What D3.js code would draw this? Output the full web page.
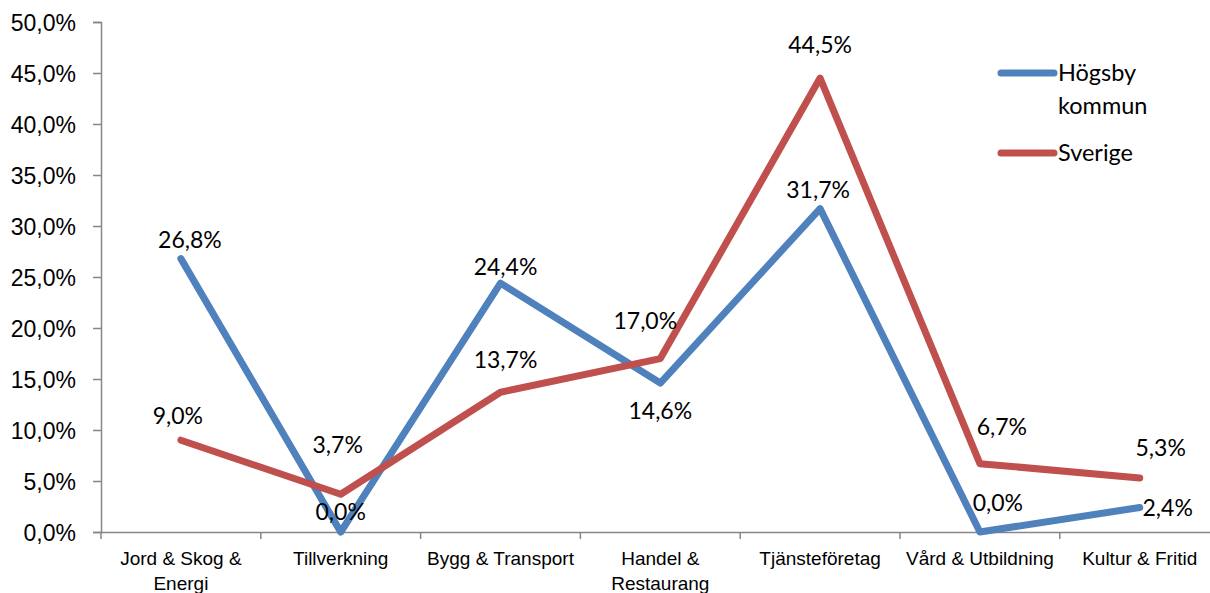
<!DOCTYPE html>
<html>
<head>
<meta charset="utf-8">
<script src="https://cdn.jsdelivr.net/npm/d3@7"></script>
<style>
  body { margin: 0; background: #fff; }
  svg { display: block; font-family: Lato, "Open Sans", sans-serif; }
  .yAxis text { font-size: 23px; fill: #000; }
  .xAxis text { font-size: 19px; fill: #000; }
  .lbl { font-size: 23px; fill: #000; }
  .leg { font-size: 23.5px; fill: #000; }
</style>
</head>
<body>
<div id="chart"></div>
<script>
// data
var categories = ["Jord & Skog & Energi", "Tillverkning", "Bygg & Transport", "Handel & Restaurang",
                  "Tjänsteföretag", "Vård & Utbildning", "Kultur & Fritid"];
var seriesNames = ["Högsby kommun", "Sverige"];
var hogsby  = [26.8, 0.0, 24.4, 14.6, 31.7, 0.0, 2.4];
var sverige = [9.0, 3.7, 13.7, 17.0, 44.5, 6.7, 5.3];
var yTicks = [0, 5, 10, 15, 20, 25, 30, 35, 40, 45, 50];

// label nudges (px) relative to each point, as placed in the original
var hogsbyLabelOffset  = [[9,-19],[0,-20],[5,-16],[0,28],[-2,-19],[18,-29],[28,0]];
var sverigeLabelOffset = [[-3,-24],[-3,-49],[5,-32],[-15,-38],[0,-33],[22,-37],[21,-30]];

var svgWidth = 1210, svgHeight = 593;
var margin = { left: 101, top: 22, bottom: 61 };
var plotRight = 101 + 7 * 159.8;

var svg = d3.select("#chart")
  .append("svg")
  .attr("width", svgWidth)
  .attr("height", svgHeight);

var x = d3.scaleBand()
  .domain(categories)
  .range([margin.left, plotRight])
  .padding(0);

var y = d3.scaleLinear()
  .domain([0, 50])
  .range([svgHeight - margin.bottom, margin.top]);

var axisColor = "#868686";

// y axis
var yAxis = d3.axisLeft(y)
  .tickValues(yTicks)
  .tickSize(8)
  .tickPadding(17)
  .tickFormat(d => d.toFixed(1).replace(".", ",") + "%");

var gy = svg.append("g")
  .attr("class", "yAxis")
  .attr("transform", `translate(${margin.left},0)`)
  .call(yAxis);
gy.select(".domain").attr("stroke", axisColor).attr("stroke-width", 1.5);
gy.selectAll(".tick line").attr("stroke", axisColor).attr("stroke-width", 1.5);
gy.selectAll(".tick text").attr("dy", "0.35em");

// x axis
var xAxis = d3.axisBottom(x).tickSize(0).tickPadding(0);
var gx = svg.append("g")
  .attr("class", "xAxis")
  .attr("transform", `translate(0,${y(0)})`)
  .call(xAxis);
gx.select(".domain").attr("stroke", axisColor).attr("stroke-width", 1.5);
gx.selectAll(".tick text").attr("y", 33).attr("dy", 0).call(wrap, 158);

// tick marks between categories
gx.selectAll(".sep")
  .data(categories.concat(["end"]))
  .enter()
  .append("line")
  .attr("class", "sep")
  .attr("x1", (d, i) => i < categories.length ? x(d) : plotRight)
  .attr("x2", (d, i) => i < categories.length ? x(d) : plotRight)
  .attr("y1", 0)
  .attr("y2", 7)
  .attr("stroke", axisColor)
  .attr("stroke-width", 1.5);

function wrap(texts, width) {
  texts.each(function() {
    var text = d3.select(this);
    var words = text.text().split(/\s+/);
    var yy = text.attr("y");
    text.text(null);
    var line = [];
    var lineNo = 0;
    var tspan = text.append("tspan").attr("x", 0).attr("y", yy);
    words.forEach(function(w) {
      line.push(w);
      tspan.text(line.join(" "));
      if (tspan.node().getComputedTextLength() > width && line.length > 1) {
        line.pop();
        tspan.text(line.join(" "));
        line = [w];
        lineNo++;
        tspan = text.append("tspan").attr("x", 0).attr("y", +yy + lineNo * 25).text(w);
      }
    });
  });
}

var cx = d => x(d) + x.bandwidth() / 2;

var series = [
  { name: seriesNames[0], values: hogsby, color: "#4F81BD", offs: hogsbyLabelOffset },
  { name: seriesNames[1], values: sverige, color: "#C0504D", offs: sverigeLabelOffset }
];

var line = d3.line()
  .x((d, i) => cx(categories[i]))
  .y(d => y(d));

series.forEach(function(s) {
  svg.append("path")
    .datum(s.values)
    .attr("fill", "none")
    .attr("stroke", s.color)
    .attr("stroke-width", 7)
    .attr("stroke-linejoin", "round")
    .attr("stroke-linecap", "round")
    .attr("d", line);
});

series.forEach(function(s) {
  svg.selectAll(null)
    .data(s.values)
    .enter()
    .append("text")
    .attr("class", "lbl")
    .attr("text-anchor", "middle")
    .attr("dy", "0.35em")
    .attr("x", (d, i) => cx(categories[i]) + s.offs[i][0])
    .attr("y", (d, i) => y(d) + s.offs[i][1])
    .text(d => d.toFixed(1).replace(".", ",") + "%");
});

// legend
var legend = svg.append("g").attr("transform", "translate(998,73)");
var legendRows = [
  { s: series[0], lines: ["Högsby", "kommun"], y: 0 },
  { s: series[1], lines: ["Sverige"], y: 80 }
];
legendRows.forEach(function(r) {
  legend.append("line")
    .attr("x1", 3).attr("x2", 56)
    .attr("y1", r.y).attr("y2", r.y)
    .attr("stroke", r.s.color)
    .attr("stroke-width", 7)
    .attr("stroke-linecap", "round");
  r.lines.forEach(function(t, k) {
    legend.append("text")
      .attr("class", "leg")
      .attr("x", 60)
      .attr("y", r.y + k * 33)
      .attr("dy", "0.35em")
      .text(t);
  });
});
</script>
</body>
</html>
